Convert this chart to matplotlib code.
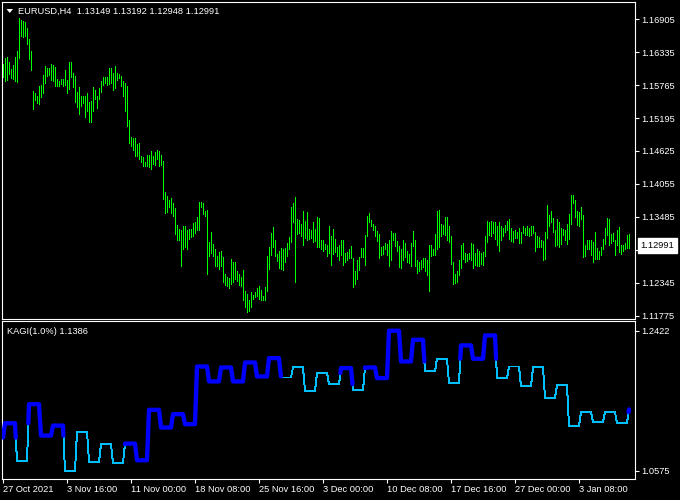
import numpy as np
import matplotlib
matplotlib.use("Agg")
import matplotlib.pyplot as plt
from matplotlib.patches import Polygon
from matplotlib.transforms import blended_transform_factory

plt.rcParams['font.family'] = ['Liberation Sans', 'DejaVu Sans']

# ---------------- data ----------------
symbol_title = "EURUSD,H4  1.13149 1.13192 1.12948 1.12991"
kagi_title = "KAGI(1.0%) 1.1386"
last_close = 1.12991

bar_high = [
    1.1613, 1.1624, 1.1625, 1.1617, 1.1605, 1.1612, 1.1626, 1.1635, 1.1692, 1.1689,
    1.1688, 1.1685, 1.1675, 1.1656, 1.1636, 1.1566, 1.1563, 1.1557, 1.1575, 1.1576,
    1.1594, 1.1610, 1.1606, 1.1607, 1.1613, 1.1611, 1.1608, 1.1587, 1.1584, 1.1587,
    1.1587, 1.1602, 1.1586, 1.1617, 1.1616, 1.1597, 1.1592, 1.1564, 1.1573, 1.1558,
    1.1557, 1.1557, 1.1563, 1.1548, 1.1549, 1.1574, 1.1568, 1.1557, 1.1572, 1.1584,
    1.1590, 1.1591, 1.1591, 1.1606, 1.1606, 1.1598, 1.1609, 1.1598, 1.1596, 1.1593,
    1.1583, 1.1581, 1.1575, 1.1516, 1.1486, 1.1485, 1.1485, 1.1475, 1.1477, 1.1453,
    1.1452, 1.1444, 1.1455, 1.1456, 1.1463, 1.1453, 1.1460, 1.1464, 1.1463, 1.1455,
    1.1446, 1.1391, 1.1385, 1.1378, 1.1381, 1.1373, 1.1363, 1.1335, 1.1327, 1.1326,
    1.1332, 1.1333, 1.1326, 1.1327, 1.1327, 1.1338, 1.1340, 1.1349, 1.1375, 1.1375,
    1.1373, 1.1359, 1.1361, 1.1305, 1.1323, 1.1302, 1.1292, 1.1280, 1.1288, 1.1289,
    1.1279, 1.1250, 1.1245, 1.1242, 1.1276, 1.1270, 1.1271, 1.1255, 1.1250, 1.1244,
    1.1256, 1.1221, 1.1215, 1.1205, 1.1219, 1.1214, 1.1219, 1.1226, 1.1229, 1.1222,
    1.1212, 1.1227, 1.1280, 1.1296, 1.1321, 1.1331, 1.1309, 1.1285, 1.1290, 1.1295,
    1.1292, 1.1294, 1.1303, 1.1313, 1.1366, 1.1373, 1.1383, 1.1345, 1.1343, 1.1336,
    1.1358, 1.1342, 1.1357, 1.1328, 1.1326, 1.1340, 1.1327, 1.1348, 1.1347, 1.1309,
    1.1308, 1.1302, 1.1300, 1.1333, 1.1315, 1.1327, 1.1310, 1.1297, 1.1300, 1.1309,
    1.1308, 1.1286, 1.1287, 1.1293, 1.1298, 1.1277, 1.1254, 1.1274, 1.1279, 1.1294,
    1.1294, 1.1317, 1.1350, 1.1355, 1.1343, 1.1336, 1.1333, 1.1324, 1.1319, 1.1296,
    1.1298, 1.1303, 1.1302, 1.1309, 1.1324, 1.1321, 1.1320, 1.1306, 1.1298, 1.1292,
    1.1308, 1.1303, 1.1289, 1.1285, 1.1303, 1.1324, 1.1309, 1.1273, 1.1271, 1.1273,
    1.1277, 1.1278, 1.1274, 1.1299, 1.1299, 1.1292, 1.1319, 1.1359, 1.1361, 1.1336,
    1.1335, 1.1349, 1.1349, 1.1332, 1.1316, 1.1270, 1.1250, 1.1255, 1.1274, 1.1299,
    1.1303, 1.1286, 1.1285, 1.1286, 1.1303, 1.1301, 1.1286, 1.1293, 1.1289, 1.1286,
    1.1288, 1.1316, 1.1342, 1.1339, 1.1342, 1.1340, 1.1339, 1.1332, 1.1339, 1.1332,
    1.1329, 1.1335, 1.1342, 1.1344, 1.1329, 1.1324, 1.1326, 1.1323, 1.1329, 1.1322,
    1.1332, 1.1330, 1.1332, 1.1329, 1.1332, 1.1332, 1.1323, 1.1315, 1.1313, 1.1309,
    1.1306, 1.1323, 1.1369, 1.1352, 1.1358, 1.1346, 1.1326, 1.1345, 1.1340, 1.1329,
    1.1327, 1.1326, 1.1336, 1.1354, 1.1387, 1.1387, 1.1378, 1.1359, 1.1357, 1.1365,
    1.1352, 1.1300, 1.1309, 1.1309, 1.1309, 1.1305, 1.1323, 1.1294, 1.1289, 1.1297,
    1.1310, 1.1329, 1.1346, 1.1345, 1.1319, 1.1321, 1.1309, 1.1326, 1.1331, 1.1300,
    1.1300, 1.1303, 1.1317, 1.13192,
]

bar_low = [
    1.1591, 1.1584, 1.1586, 1.1596, 1.1589, 1.1587, 1.1583, 1.1582, 1.1623, 1.1662,
    1.1659, 1.1661, 1.1648, 1.1621, 1.1602, 1.1535, 1.1551, 1.1545, 1.1544, 1.1556,
    1.1563, 1.1580, 1.1593, 1.1594, 1.1586, 1.1583, 1.1575, 1.1575, 1.1575, 1.1578,
    1.1575, 1.1577, 1.1563, 1.1570, 1.1591, 1.1574, 1.1548, 1.1539, 1.1527, 1.1541,
    1.1545, 1.1522, 1.1532, 1.1512, 1.1512, 1.1532, 1.1552, 1.1537, 1.1553, 1.1565,
    1.1576, 1.1580, 1.1576, 1.1579, 1.1580, 1.1568, 1.1571, 1.1586, 1.1588, 1.1575,
    1.1557, 1.1532, 1.1505, 1.1476, 1.1471, 1.1464, 1.1453, 1.1453, 1.1449, 1.1443,
    1.1436, 1.1436, 1.1436, 1.1435, 1.1432, 1.1440, 1.1439, 1.1449, 1.1436, 1.1438,
    1.1379, 1.1356, 1.1357, 1.1365, 1.1355, 1.1350, 1.1318, 1.1308, 1.1309, 1.1263,
    1.1293, 1.1296, 1.1292, 1.1310, 1.1313, 1.1316, 1.1321, 1.1326, 1.1325, 1.1366,
    1.1354, 1.1350, 1.1249, 1.1280, 1.1286, 1.1280, 1.1264, 1.1264, 1.1259, 1.1264,
    1.1235, 1.1230, 1.1228, 1.1225, 1.1233, 1.1235, 1.1241, 1.1237, 1.1231, 1.1228,
    1.1204, 1.1192, 1.1184, 1.1186, 1.1193, 1.1206, 1.1210, 1.1211, 1.1206, 1.1204,
    1.1204, 1.1205, 1.1220, 1.1258, 1.1282, 1.1297, 1.1281, 1.1272, 1.1260, 1.1259,
    1.1257, 1.1270, 1.1281, 1.1292, 1.1305, 1.1340, 1.1235, 1.1319, 1.1320, 1.1315,
    1.1300, 1.1312, 1.1309, 1.1311, 1.1312, 1.1305, 1.1306, 1.1296, 1.1296, 1.1293,
    1.1289, 1.1292, 1.1280, 1.1286, 1.1266, 1.1285, 1.1287, 1.1280, 1.1273, 1.1283,
    1.1266, 1.1271, 1.1274, 1.1277, 1.1277, 1.1227, 1.1233, 1.1241, 1.1257, 1.1279,
    1.1279, 1.1266, 1.1315, 1.1340, 1.1332, 1.1325, 1.1315, 1.1306, 1.1277, 1.1283,
    1.1285, 1.1293, 1.1283, 1.1264, 1.1274, 1.1309, 1.1298, 1.1290, 1.1262, 1.1260,
    1.1274, 1.1279, 1.1271, 1.1269, 1.1264, 1.1298, 1.1264, 1.1252, 1.1254, 1.1258,
    1.1262, 1.1255, 1.1247, 1.1221, 1.1280, 1.1282, 1.1283, 1.1292, 1.1297, 1.1315,
    1.1319, 1.1317, 1.1309, 1.1305, 1.1267, 1.1233, 1.1234, 1.1236, 1.1247, 1.1260,
    1.1276, 1.1271, 1.1272, 1.1276, 1.1274, 1.1260, 1.1266, 1.1264, 1.1263, 1.1267,
    1.1266, 1.1280, 1.1305, 1.1317, 1.1316, 1.1320, 1.1311, 1.1299, 1.1289, 1.1309,
    1.1315, 1.1323, 1.1326, 1.1311, 1.1306, 1.1305, 1.1312, 1.1312, 1.1303, 1.1303,
    1.1320, 1.1317, 1.1317, 1.1316, 1.1317, 1.1320, 1.1289, 1.1297, 1.1297, 1.1297,
    1.1273, 1.1275, 1.1312, 1.1333, 1.1340, 1.1323, 1.1298, 1.1300, 1.1297, 1.1302,
    1.1317, 1.1308, 1.1302, 1.1310, 1.1336, 1.1372, 1.1349, 1.1335, 1.1333, 1.1345,
    1.1279, 1.1281, 1.1292, 1.1293, 1.1283, 1.1271, 1.1276, 1.1276, 1.1276, 1.1283,
    1.1292, 1.1302, 1.1317, 1.1300, 1.1303, 1.1306, 1.1283, 1.1300, 1.1287, 1.1285,
    1.1289, 1.1293, 1.1294, 1.12948,
]

price_ticks = [1.16905, 1.16335, 1.15765, 1.15195, 1.14625,
               1.14055, 1.13485, 1.12915, 1.12345, 1.11775]

kagi_levels = [
    1.1015, 1.1204, 1.0707, 1.1455, 1.1041, 1.1173, 1.0575, 1.1094, 1.0698, 1.0927,
    1.0681, 1.0936, 1.0716, 1.1380, 1.1147, 1.1323, 1.1191, 1.1951, 1.1754, 1.1938,
    1.1754, 1.2004, 1.1820, 1.2061, 1.1806, 1.1938, 1.1630, 1.1864, 1.1718, 1.1930,
    1.1644, 1.1938, 1.1798, 1.2422, 1.2017, 1.2303, 1.1886, 1.2053, 1.1732, 1.2229,
    1.2053, 1.2360, 1.1798, 1.1951, 1.1688, 1.1938, 1.1542, 1.1701, 1.1169, 1.1349,
    1.1217, 1.1349, 1.1204, 1.1386,
]
kagi_durations = [
    1, 6, 6, 6, 6, 6, 6, 6, 6, 6,
    6, 6, 6, 6, 6, 6, 6, 6, 6, 6,
    6, 6, 6, 6, 6, 6, 6, 6, 6, 6,
    6, 6, 6, 6, 6, 6, 6, 6, 6, 6,
    6, 6, 6, 6, 6, 6, 6, 6, 6, 6,
    6, 6, 6, 1,
]
kagi_ticks = [1.2422, 1.0575]

time_labels = ["27 Oct 2021", "3 Nov 16:00", "11 Nov 00:00", "18 Nov 08:00",
               "25 Nov 16:00", "3 Dec 00:00", "10 Dec 08:00", "17 Dec 16:00",
               "27 Dec 00:00", "3 Jan 08:00"]
bars_per_label = 32

# ---------------- figure ----------------
W, H = 680, 500
fig = plt.figure(figsize=(W / 100, H / 100), dpi=100, facecolor="black")

def fx(px):
    return px / W

def fy(py):
    return 1 - py / H

left_px, right_px = 2.0, 634.7
ax1 = fig.add_axes([fx(left_px), fy(319), (right_px - left_px) / W, (319 - 2) / H])
ax2 = fig.add_axes([fx(left_px), fy(479), (right_px - left_px) / W, (479 - 320.7) / H])

n = len(bar_high)
idx = np.arange(n)
xmin = -0.5
xmax = xmin + (right_px - left_px) / 2.0

FG = "white"
FS = 6.7
for ax in (ax1, ax2):
    ax.set_facecolor("black")
    ax.set_xlim(xmin, xmax)
    for sp in ax.spines.values():
        sp.set_color(FG)
        sp.set_linewidth(0.8)
    ax.yaxis.tick_right()
    ax.tick_params(axis="y", colors=FG, labelcolor=FG, length=3, width=0.8,
                   labelsize=FS, pad=2, direction="out")

# ---- price panel ----
ax1.vlines(idx, bar_low, bar_high, colors="#00FF00", linewidth=0.5,
           antialiased=False)
ax1.set_ylim(1.11717, 1.17204)
ax1.set_yticks(price_ticks)
ax1.set_yticklabels([f"{v:.5f}" for v in price_ticks])
ax1.set_xticks([])

tr = blended_transform_factory(ax1.transAxes, ax1.transData)
ax1.text(1.0 + 6.0 / (right_px - left_px), last_close, f"{last_close:.5f}",
         transform=tr, ha="left", va="center", fontsize=FS, color="black",
         bbox=dict(boxstyle="square,pad=0.3", fc="white", ec="white"),
         clip_on=False, zorder=20)

fig.text(fx(18.3), fy(14.2), symbol_title, color=FG, fontsize=FS, va="baseline")
tri = Polygon([[fx(6.5), fy(9.0)], [fx(13.0), fy(9.0)], [fx(9.75), fy(13.0)]],
              closed=True, transform=fig.transFigure, facecolor=FG, edgecolor=FG,
              linewidth=0)
fig.patches.append(tri)

# ---- kagi panel ----
levels = np.array(kagi_levels)
durs = np.array(kagi_durations)
starts = np.concatenate([[0], np.cumsum(durs)[:-1]])
ends = starts + durs - 1

state = [True]
switch = [None]
for i in range(1, len(levels)):
    a, b = levels[i - 1], levels[i]
    s = state[-1]
    sw = None
    if i >= 2:
        t = levels[i - 2]
        if b > a and (not s) and b > t:
            s, sw = True, t
        elif b < a and s and b < t:
            s, sw = False, t
    state.append(s)
    switch.append(sw)

runs = []
cur_style = state[0]
cx, cy = [starts[0]], [levels[0]]
if ends[0] > starts[0]:
    cx.append(ends[0]); cy.append(levels[0])
for i in range(1, len(levels)):
    x0, y0 = ends[i - 1], levels[i - 1]
    x1, y1 = starts[i], levels[i]
    if switch[i] is not None:
        t = switch[i]
        xs = x0 + (t - y0) / (y1 - y0) * (x1 - x0)
        cx.append(xs); cy.append(t)
        runs.append((cur_style, cx, cy))
        cur_style = state[i]
        cx, cy = [xs], [t]
    cx.append(x1); cy.append(y1)
    if ends[i] > starts[i]:
        cx.append(ends[i]); cy.append(y1)
runs.append((cur_style, cx, cy))

for yang, xs_, ys_ in runs:
    if not yang:
        ax2.plot(xs_, ys_, color="#00BFFF", linewidth=0.7, antialiased=False,
                 zorder=3)
for yang, xs_, ys_ in runs:
    if yang:
        ax2.plot(xs_, ys_, color="#0000FF", linewidth=3.1,
                 solid_joinstyle="round", solid_capstyle="round", zorder=4)

ax2.set_ylim(1.04695, 1.2554)
ax2.set_yticks(kagi_ticks)
ax2.set_yticklabels([f"{v:.4f}" for v in kagi_ticks])

ax2.set_xticks(np.arange(len(time_labels)) * bars_per_label)
ax2.set_xticklabels(time_labels)
for lab in ax2.get_xticklabels():
    lab.set_horizontalalignment("left")
ax2.tick_params(axis="x", colors=FG, labelcolor=FG, length=3, width=0.8,
                labelsize=FS, pad=1.5, direction="out")

fig.text(fx(7.3), fy(334.5), kagi_title, color=FG, fontsize=FS, va="baseline")

fig.savefig("out.png", dpi=100, facecolor="black")
